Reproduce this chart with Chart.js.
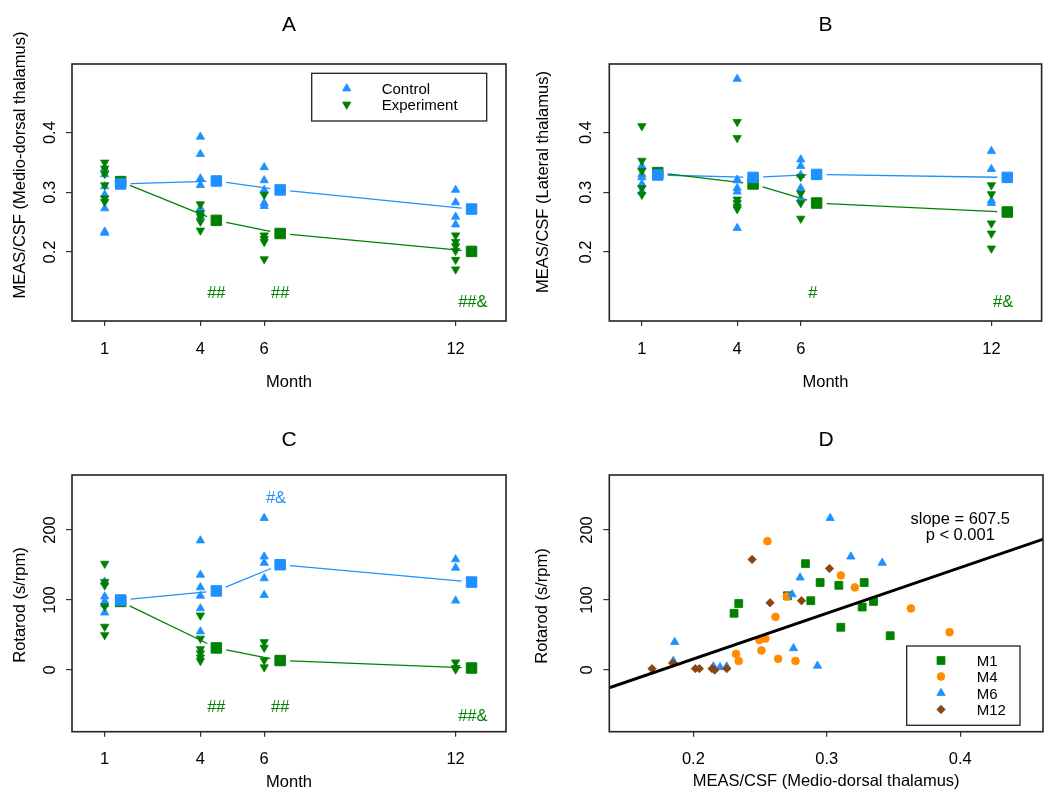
<!DOCTYPE html>
<html>
<head>
<meta charset="utf-8">
<script src="https://cdn.jsdelivr.net/npm/chart.js@4.4.1/dist/chart.umd.min.js"></script>
<style>
  body { margin: 0; background: #fff; }
  #wrap { position: relative; width: 1050px; height: 808px; }
  .panel { position: absolute; width: 525px; height: 404px; }
</style>
</head>
<body>
<div id="wrap">
  <div class="panel" style="left:0;top:0"><canvas id="chartA" width="525" height="404"></canvas></div>
  <div class="panel" style="left:525px;top:0"><canvas id="chartB" width="525" height="404"></canvas></div>
  <div class="panel" style="left:0;top:404px"><canvas id="chartC" width="525" height="404"></canvas></div>
  <div class="panel" style="left:525px;top:404px"><canvas id="chartD" width="525" height="404"></canvas></div>
</div>
<script>
// ── data ────────────────────────────────────────────────────────────────
const months     = [1, 4, 6, 12];
const meanMonths = [1.5, 4.5, 6.5, 12.5];
const monthText  = ['1', '4', '6', '12'];

// A: MEAS/CSF, medio-dorsal thalamus (one inner list per month)
const ctrlA = [
  [0.34, 0.33, 0.31, 0.296, 0.273, 0.234, 0.232],
  [0.393, 0.364, 0.323, 0.312, 0.273, 0.26],
  [0.342, 0.320, 0.304, 0.282, 0.277],
  [0.304, 0.283, 0.259, 0.246]
];
const expA = [
  [0.350, 0.340, 0.331, 0.312, 0.290, 0.284],
  [0.280, 0.265, 0.26, 0.251, 0.236],
  [0.296, 0.228, 0.222, 0.217, 0.188],
  [0.228, 0.217, 0.21, 0.202, 0.187, 0.171]
];
const ctrlMeanA = [0.314, 0.319, 0.304, 0.272];
const expMeanA  = [0.318, 0.253, 0.231, 0.201];

// B: MEAS/CSF, lateral thalamus
const ctrlB = [
  [0.344, 0.33, 0.325, 0.314, 0.301],
  [0.490, 0.321, 0.32, 0.307, 0.301, 0.240],
  [0.355, 0.344, 0.329, 0.307, 0.290],
  [0.369, 0.339, 0.286, 0.282]
];
const expB = [
  [0.411, 0.353, 0.336, 0.307, 0.296],
  [0.418, 0.391, 0.288, 0.282, 0.276, 0.272],
  [0.326, 0.298, 0.282, 0.256],
  [0.312, 0.297, 0.248, 0.231, 0.206]
];
const ctrlMeanB = [0.329, 0.325, 0.330, 0.325];
const expMeanB  = [0.333, 0.314, 0.282, 0.267];

// C: Rotarod (s/rpm)
const ctrlC = [
  [126, 105, 98, 94, 82],
  [185, 136, 118, 106, 88, 55],
  [217, 162, 153, 131, 107],
  [158, 146, 99]
];
const expC = [
  [152, 126, 121, 91, 62, 50],
  [78, 45, 30, 24, 18, 13],
  [40, 32, 14, 4],
  [11, 3, 1]
];
const ctrlMeanC = [100, 113, 150.5, 125.7];
const expMeanC  = [98, 31.6, 13.6, 2.9];

// D: rotarod vs MEAS/CSF, by month
const m1X  = [0.2305, 0.234, 0.2705, 0.284, 0.288, 0.295, 0.309, 0.3105, 0.3265, 0.328, 0.335, 0.3475];
const m1Y  = [81, 95, 106, 152, 99, 125, 121, 61, 90, 125, 98, 49];
const m4X  = [0.232, 0.234, 0.2495, 0.251, 0.254, 0.2555, 0.2615, 0.2635, 0.270, 0.2765, 0.3105, 0.321, 0.363, 0.392];
const m4Y  = [23, 13, 43, 28, 45, 184, 76, 16, 105, 13, 135, 118, 88, 54];
const m6X  = [0.185, 0.186, 0.215, 0.22, 0.225, 0.274, 0.275, 0.280, 0.293, 0.3025, 0.318, 0.3415];
const m6Y  = [13, 40, 5, 4, 5, 108, 31, 132, 6, 217, 162, 153];
const m12X = [0.169, 0.1845, 0.2015, 0.2045, 0.214, 0.216, 0.225, 0.244, 0.2575, 0.281, 0.302];
const m12Y = [2, 10, 2, 2, 2, 0, 2, 158, 96, 99, 145];
const fitX = [0.13, 0.47];
const fitY = [-30, 192];

const ratioTicks = [0.2, 0.3, 0.4];
const ratioText  = ['0.2', '0.3', '0.4'];
const rotaTicks  = [0, 100, 200];
const rotaText   = ['0', '100', '200'];

// significance marks: text, x, y
const sigA = [['##', 4.5, 0.131], ['##', 6.5, 0.131], ['##&', 12.54, 0.115]];
const sigB = [['#', 6.38, 0.131], ['#&', 12.37, 0.115]];
const sigC = [['##', 4.5, -54], ['##', 6.5, -54], ['##&', 12.54, -66]];
const sigCctrl = [['#&', 6.37, 245]];
const fitNote = [['slope = 607.5', 0.4, 215.7], ['p < 0.001', 0.4, 191.9]];

// ── styles ──────────────────────────────────────────────────────────────
const BLUE = '#1E90FF', GREEN = '#008000', ORANGE = '#FF8C00', BROWN = '#8B4513';
const FONT = '"Liberation Sans", Arial, sans-serif';
const axisFont = { family: FONT, size: 16.5 };

const toPts = (xs, ys) => xs.map((x, i) => ({ x, y: ys[i] }));
const byMonth = lists => months.flatMap((m, i) => lists[i].map(v => ({ x: m, y: v })));

function groupSets(ctrl, exp, ctrlMean, expMean) {
  return [
    { label: 'Control mean', data: toPts(meanMonths, ctrlMean), meanLine: true, pointStyle: 'rect',
      pointRadius: 7.4, borderWidth: 1, backgroundColor: BLUE, borderColor: BLUE },
    { label: 'Experiment mean', data: toPts(meanMonths, expMean), meanLine: true, pointStyle: 'rect',
      pointRadius: 7.4, borderWidth: 1, backgroundColor: GREEN, borderColor: GREEN },
    { label: 'Experiment', data: byMonth(exp), pointStyle: 'triangle', rotation: 180,
      pointRadius: 4.8, borderWidth: 0.8, backgroundColor: GREEN, borderColor: GREEN },
    { label: 'Control', data: byMonth(ctrl), pointStyle: 'triangle',
      pointRadius: 4.8, borderWidth: 0.8, backgroundColor: BLUE, borderColor: BLUE }
  ];
}

// ── R-style decorations: box, rotated y labels, gapped mean lines, notes, legend
const panelDecor = {
  id: 'panelDecor',
  beforeDatasetsDraw(chart) {
    const ctx = chart.ctx;
    chart.data.datasets.forEach((ds, i) => {
      if (!ds.meanLine) return;
      const pts = chart.getDatasetMeta(i).data;
      ctx.save();
      ctx.strokeStyle = ds.borderColor;
      ctx.lineWidth = 1.3;
      ctx.beginPath();
      for (let k = 0; k < pts.length - 1; k++) {
        const a = pts[k], b = pts[k + 1];
        const dx = b.x - a.x, dy = b.y - a.y, len = Math.hypot(dx, dy);
        const ux = dx / len, uy = dy / len, g = 10;
        ctx.moveTo(a.x + ux * g, a.y + uy * g);
        ctx.lineTo(b.x - ux * g, b.y - uy * g);
      }
      ctx.stroke();
      ctx.restore();
    });
  },
  afterDraw(chart, args, o) {
    const { ctx, chartArea: ca, scales: { x, y } } = chart;
    ctx.save();
    // box
    ctx.strokeStyle = '#222';
    ctx.lineWidth = 1.6;
    ctx.strokeRect(ca.left, ca.top, ca.right - ca.left, ca.bottom - ca.top);

    // panel letter
    ctx.fillStyle = '#000';
    ctx.textAlign = 'center';
    ctx.textBaseline = 'middle';
    ctx.font = `21px ${FONT}`;
    ctx.fillText(o.letter, (ca.left + ca.right) / 2, o.letterY);

    // y tick labels and y title, rotated like R
    ctx.font = `16.5px ${FONT}`;
    o.yTicks.forEach((v, i) => {
      ctx.save();
      ctx.translate(o.yLabelX, y.getPixelForValue(v));
      ctx.rotate(-Math.PI / 2);
      ctx.fillText(o.yText[i], 0, 0);
      ctx.restore();
    });
    ctx.save();
    ctx.translate(o.yTitleX, o.yTitleY);
    ctx.rotate(-Math.PI / 2);
    ctx.fillText(o.yTitle, 0, 0);
    ctx.restore();

    // notes in data coordinates
    (o.notes || []).forEach(([list, color, size]) => {
      ctx.fillStyle = color;
      ctx.font = `${size}px ${FONT}`;
      list.forEach(([t, vx, vy]) => ctx.fillText(t, x.getPixelForValue(vx), y.getPixelForValue(vy)));
    });

    // legend box
    if (o.legend) {
      const L = o.legend;
      ctx.strokeStyle = '#222';
      ctx.lineWidth = 1.3;
      ctx.strokeRect(L.box[0], L.box[1], L.box[2] - L.box[0], L.box[3] - L.box[1]);
      ctx.font = `15px ${FONT}`;
      ctx.textAlign = 'left';
      L.rows.forEach(([dsIndex, rowY]) => {
        const ds = chart.data.datasets[dsIndex];
        ctx.fillStyle = ds.backgroundColor;
        ctx.strokeStyle = ds.borderColor;
        ctx.lineWidth = ds.borderWidth;
        Chart.helpers.drawPoint(ctx, {
          pointStyle: ds.pointStyle, radius: ds.pointRadius,
          rotation: ds.rotation || 0, borderWidth: ds.borderWidth
        }, L.markerX, rowY - 1.5);
        ctx.fillStyle = '#000';
        ctx.fillText(ds.label, L.textX, rowY);
      });
    }
    ctx.restore();
  }
};

function makePanel(id, p) {
  return new Chart(document.getElementById(id), {
    type: 'scatter',
    data: { datasets: p.datasets },
    options: {
      responsive: false,
      animation: false,
      events: [],
      layout: { padding: { left: 0, top: p.area.top, right: 525 - p.area.right, bottom: 0 } },
      scales: {
        x: {
          type: 'linear', min: p.xRange[0], max: p.xRange[1],
          afterBuildTicks: s => { s.ticks = p.xTicks.map(v => ({ value: v })); },
          afterFit: s => { s.height = 404 - p.area.bottom; },
          ticks: { font: axisFont, color: '#000', padding: 13.2, maxRotation: 0,
                   callback: (v, i) => p.xText[i] },
          grid: { drawOnChartArea: false, tickLength: 5, color: '#333', lineWidth: 1.2 },
          border: { display: false },
          title: { display: true, text: p.xTitle, font: axisFont, color: '#000',
                   padding: { top: 0, bottom: p.xTitlePad } }
        },
        y: {
          type: 'linear', min: p.yRange[0], max: p.yRange[1],
          afterBuildTicks: s => { s.ticks = p.yTicks.map(v => ({ value: v })); },
          afterFit: s => { s.width = p.area.left; },
          ticks: { display: false },
          grid: { drawOnChartArea: false, tickLength: 6, color: '#333', lineWidth: 1.2 },
          border: { display: false }
        }
      },
      plugins: {
        legend: { display: false },
        tooltip: { enabled: false },
        panelDecor: {
          letter: p.letter, letterY: p.letterY,
          yTicks: p.yTicks, yText: p.yText, yLabelX: p.yLabelX,
          yTitle: p.yTitle, yTitleX: p.yTitleX, yTitleY: p.yTitleY,
          notes: p.notes, legend: p.legend
        }
      }
    },
    plugins: [panelDecor]
  });
}

const monthX = [-0.025, 13.58];
const ratioY = [0.0844, 0.515];
const rotaY  = [-88.1, 278.6];

makePanel('chartA', {
  letter: 'A', letterY: 25,
  area: { left: 72, top: 64, right: 506, bottom: 321 },
  xRange: monthX, xTicks: months, xText: monthText, xTitle: 'Month', xTitlePad: 12.1,
  yRange: ratioY, yTicks: ratioTicks, yText: ratioText, yLabelX: 50,
  yTitle: 'MEAS/CSF (Medio-dorsal thalamus)', yTitleX: 20, yTitleY: 165,
  datasets: groupSets(ctrlA, expA, ctrlMeanA, expMeanA),
  notes: [[sigA, GREEN, 16.5]],
  legend: { box: [311.7, 73.3, 486.7, 121], markerX: 346.7, textX: 381.7, rows: [[3, 90], [2, 106]] }
});

makePanel('chartB', {
  letter: 'B', letterY: 25,
  area: { left: 84.3, top: 64, right: 518, bottom: 321 },
  xRange: monthX, xTicks: months, xText: monthText, xTitle: 'Month', xTitlePad: 12.1,
  yRange: ratioY, yTicks: ratioTicks, yText: ratioText, yLabelX: 61.7,
  yTitle: 'MEAS/CSF (Lateral thalamus)', yTitleX: 18, yTitleY: 182,
  datasets: groupSets(ctrlB, expB, ctrlMeanB, expMeanB),
  notes: [[sigB, GREEN, 16.5]]
});

makePanel('chartC', {
  letter: 'C', letterY: 36,
  area: { left: 72, top: 71, right: 506, bottom: 327.7 },
  xRange: monthX, xTicks: months, xText: monthText, xTitle: 'Month', xTitlePad: 16.1,
  yRange: rotaY, yTicks: rotaTicks, yText: rotaText, yLabelX: 50,
  yTitle: 'Rotarod (s/rpm)', yTitleX: 20, yTitleY: 201,
  datasets: groupSets(ctrlC, expC, ctrlMeanC, expMeanC),
  notes: [[sigC, GREEN, 16.5], [sigCctrl, BLUE, 16.5]]
});

makePanel('chartD', {
  letter: 'D', letterY: 36,
  area: { left: 84.3, top: 71, right: 518, bottom: 327.7 },
  xRange: [0.137, 0.462], xTicks: ratioTicks, xText: ratioText,
  xTitle: 'MEAS/CSF (Medio-dorsal thalamus)', xTitlePad: 16.4,
  yRange: rotaY, yTicks: rotaTicks, yText: rotaText, yLabelX: 62.5,
  yTitle: 'Rotarod (s/rpm)', yTitleX: 17, yTitleY: 202,
  datasets: [
    { label: 'fit', type: 'line', data: toPts(fitX, fitY), borderColor: '#000', borderWidth: 3,
      pointRadius: 0, clip: 0 },
    { label: 'M12', data: toPts(m12X, m12Y), pointStyle: 'rectRot', pointRadius: 4.2, borderWidth: 0.8,
      backgroundColor: BROWN, borderColor: BROWN },
    { label: 'M6', data: toPts(m6X, m6Y), pointStyle: 'triangle', pointRadius: 4.8, borderWidth: 0.8,
      backgroundColor: BLUE, borderColor: BLUE },
    { label: 'M4', data: toPts(m4X, m4Y), pointStyle: 'circle', pointRadius: 3.9, borderWidth: 0.8,
      backgroundColor: ORANGE, borderColor: ORANGE },
    { label: 'M1', data: toPts(m1X, m1Y), pointStyle: 'rect', pointRadius: 5.6, borderWidth: 0.8,
      backgroundColor: GREEN, borderColor: GREEN }
  ],
  notes: [[fitNote, '#000', 16.5]],
  legend: { box: [381.7, 242, 495, 321.3], markerX: 416, textX: 451.7,
            rows: [[4, 258], [3, 274], [2, 290.5], [1, 307]] }
});
</script>
</body>
</html>
